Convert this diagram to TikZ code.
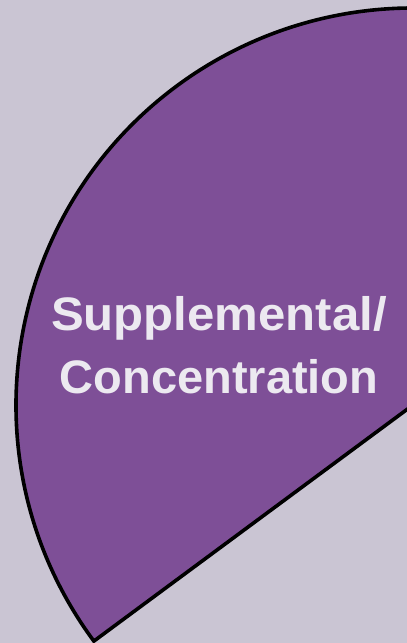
\documentclass[tikz,border=0pt]{standalone}
\usepackage{fontspec}
\setmainfont{Liberation Sans}
\newfontfamily\lblfont[FakeStretch=1.045]{Liberation Sans}
\newfontfamily\lblfontb{Liberation Sans}
\definecolor{bgc}{RGB}{202,197,211}
\definecolor{slicec}{RGB}{126,79,151}
\definecolor{txtc}{RGB}{236,233,240}
\begin{document}
\begin{tikzpicture}[x=1pt,y=1pt,
  slice/.style={fill=slicec,draw=black,line width=3.6pt,line join=miter},
  label/.style={text=txtc,font=\lblfont\bfseries\fontsize{47}{63}\selectfont,align=center,inner sep=0pt}]
\useasboundingbox (0,0) rectangle (407,643);
\fill[bgc] (0,0) rectangle (407,643);
\coordinate (ctr) at (413,238);
\begin{scope}
\clip (0,0) rectangle (407,643);
\draw[slice] (ctr) -- ++(216.5:397) arc[start angle=216.5,end angle=90,radius=397] -- cycle;
\end{scope}
\node[label] (t) at (219,298) {Supplemental/\\{\lblfontb\bfseries Concentration}};
\end{tikzpicture}
\end{document}
